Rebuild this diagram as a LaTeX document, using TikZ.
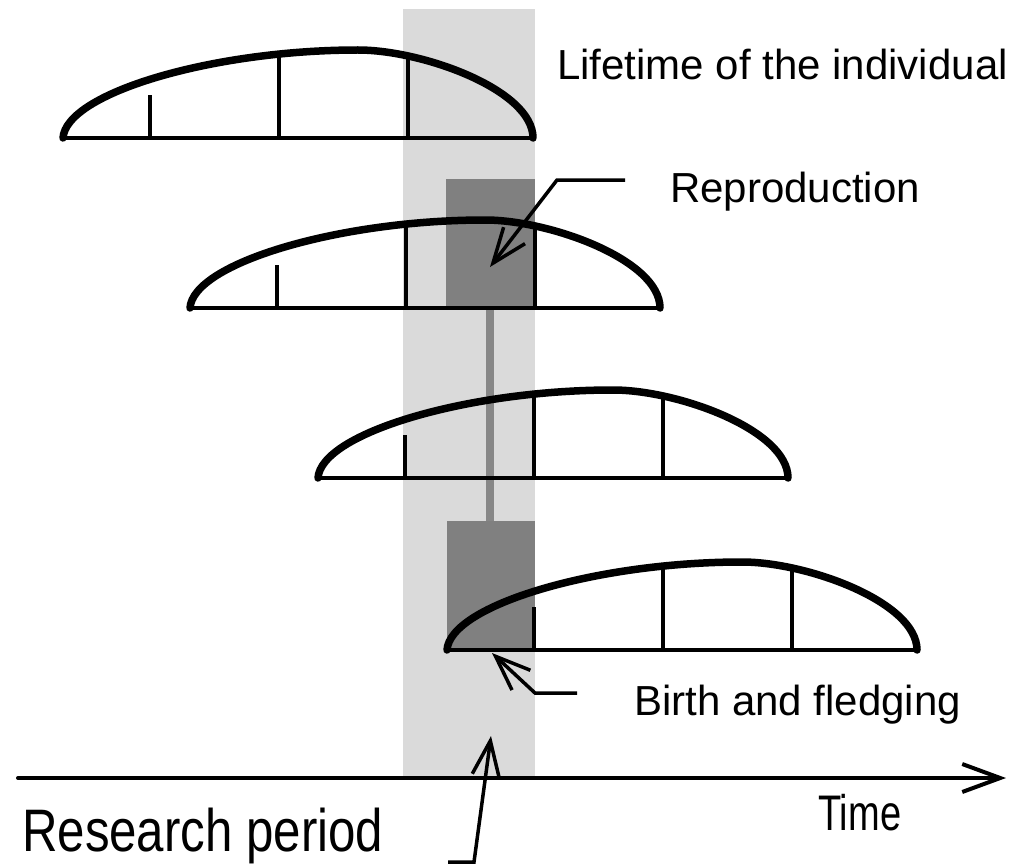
\documentclass[tikz,border=0pt]{standalone}
\usepackage{fontspec}
\setmainfont{Liberation Sans}
\usetikzlibrary{arrows.meta}
\definecolor{bandgray}{HTML}{DADADA}
\definecolor{boxgray}{HTML}{808080}
\definecolor{stemgray}{HTML}{878787}
\tikzset{
  arcline/.style={line width=7.5pt, line cap=round},
  baseline/.style={line width=4pt, line cap=round},
  ticks/.style={line width=3.5pt},
  leader/.style={line width=3.5pt, -{Straight Barb[length=35pt,width=27pt]}},
  lbl/.style={font=\fontsize{42}{48}\selectfont, inner sep=0pt, anchor=base west},
}
\newcommand\lifespan[2]{%
  \begin{scope}[shift={(#1,#2)}]
    \begin{scope}
      \clip (0,0) .. controls (3,-45) and (150,-88) .. (295,-88)
        .. controls (360,-88) and (470,-48) .. (470,0) -- cycle;
      \draw[ticks] (216,0) -- (216,-100) (345,0) -- (345,-100);
    \end{scope}
    \draw[ticks] (87,0) -- (87,-43);
    \draw[baseline] (0,0) -- (470,0);
    \draw[arcline] (0,0) .. controls (3,-45) and (150,-88) .. (295,-88)
        .. controls (360,-88) and (470,-48) .. (470,0);
  \end{scope}}
\begin{document}
\begin{tikzpicture}[x=1pt,y=-1pt]
\useasboundingbox (0,0) rectangle (1030,864);
\fill[white] (0,0) rectangle (1030,864);
% research band
\fill[bandgray] (403,9) rectangle (535,778);
% reproduction / birth boxes and stem
\fill[stemgray] (486,308) rectangle (494,521);
\fill[boxgray] (446,179) rectangle (535,308);
\fill[boxgray] (447,521) rectangle (535,650);
% lifetimes
\lifespan{63}{138}
\lifespan{190}{308}
\lifespan{318}{478}
\lifespan{447}{650}
% time axis
\coordinate (axL) at (18,778);
\coordinate (axR) at (1006,778);
\draw[line width=4pt, line cap=round, -{Straight Barb[length=38pt,width=28pt]}] (axL) -- (axR);
% labels
\node[lbl] (life) at (557,80) {Lifetime of the individual};
\node[lbl] (rep) at (670,202) {Reproduction};
\node[lbl] (birth) at (634,715) {Birth and fledging};
\node[lbl, font=\fontsize{50}{56}\selectfont, xscale=0.76] (time) at (818,830) {Time};
\node[lbl, font=\fontsize{60}{66}\selectfont, xscale=0.82] (res) at (22,851) {Research period};
% leaders
\coordinate (repA) at (625,180);
\coordinate (repB) at (557,180);
\coordinate (repTip) at (490,267);
\draw[leader] (repA) -- (repB) -- (repTip);
\coordinate (birA) at (577,693);
\coordinate (birB) at (535,693);
\coordinate (birTip) at (492,653);
\draw[leader] (birA) -- (birB) -- (birTip);
\coordinate (resA) at (448,862);
\coordinate (resB) at (474,862);
\coordinate (resTip) at (491,736);
\draw[leader] (resA) -- (resB) -- (resTip);
\end{tikzpicture}
\end{document}
